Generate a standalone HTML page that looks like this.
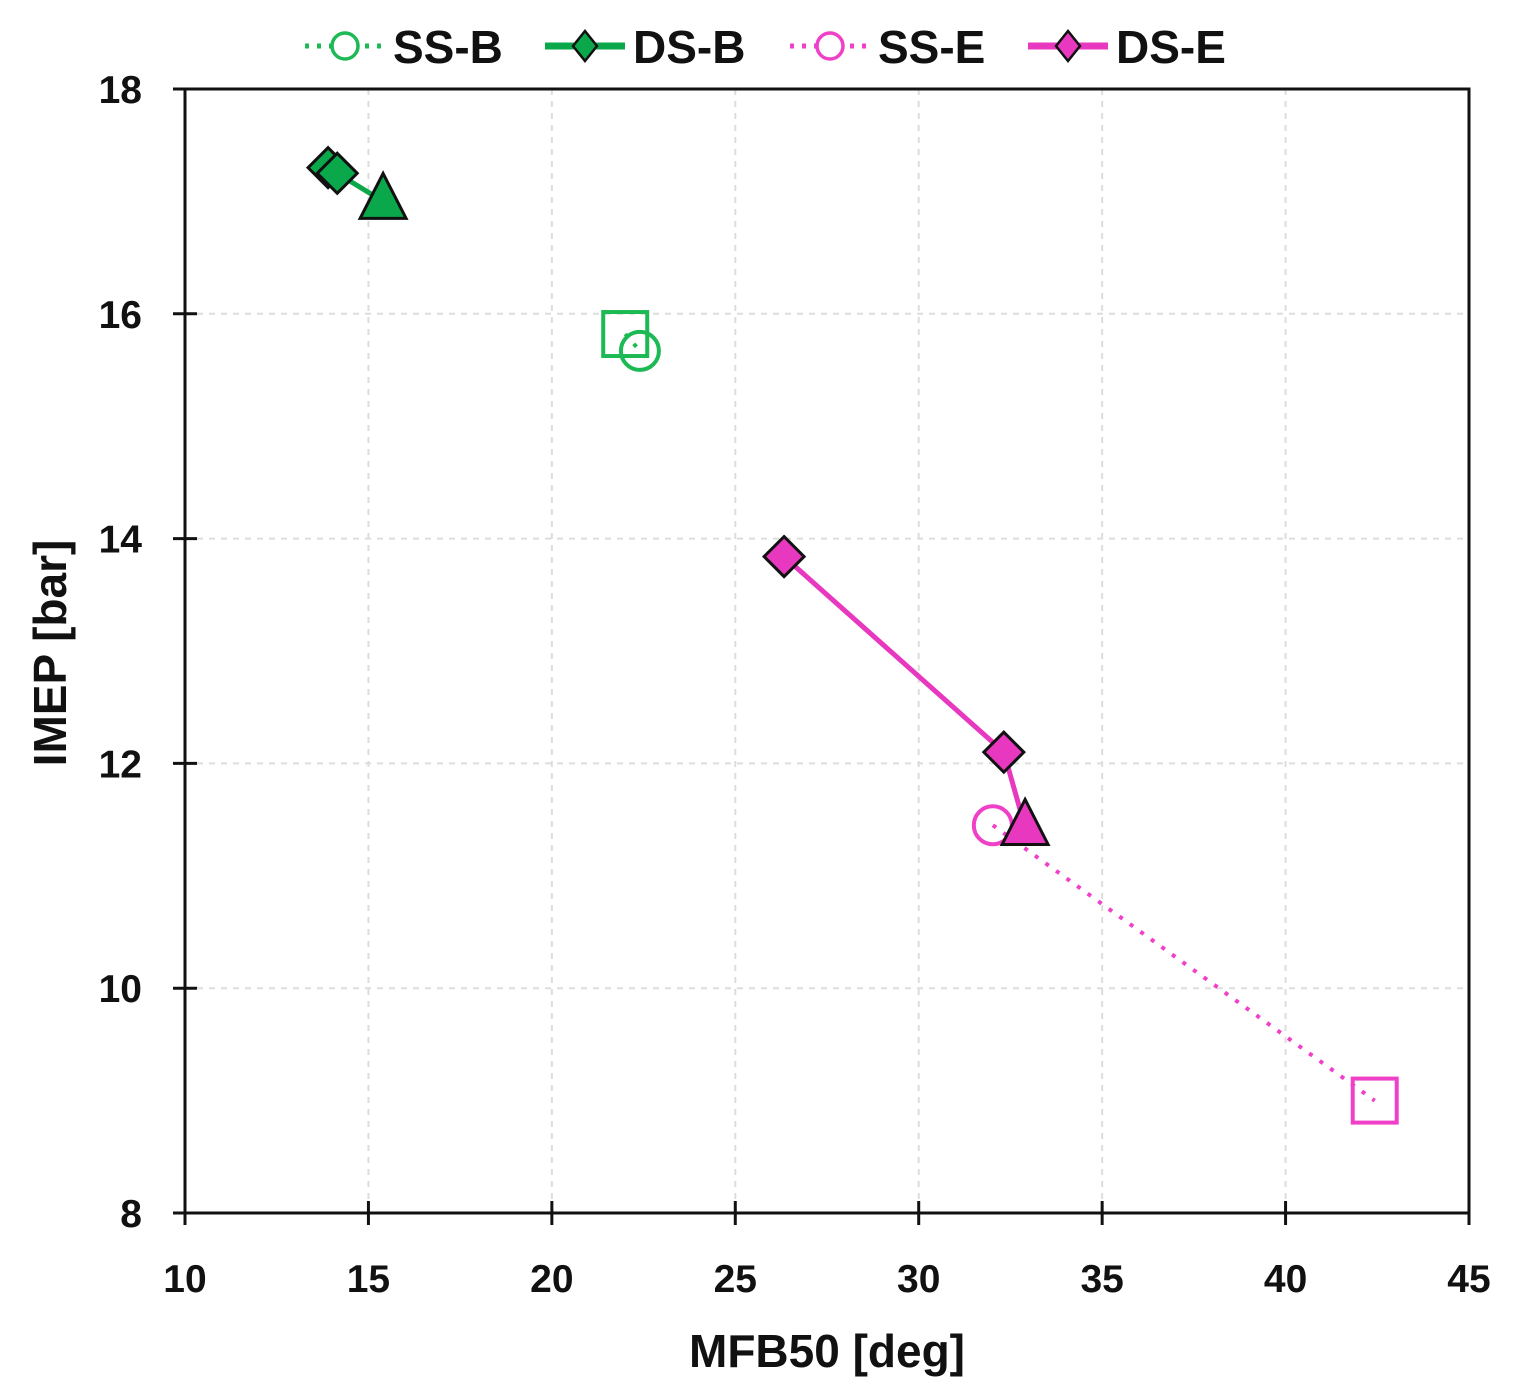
<!DOCTYPE html>
<html><head><meta charset="utf-8"><style>
html,body{margin:0;padding:0;background:#fff;}
svg{display:block;font-family:"Liberation Sans",Arial,sans-serif;}
</style></head><body>
<svg id="chart" width="1522" height="1398" viewBox="0 0 1522 1398"></svg>
<script>
const xTicks=[10,15,20,25,30,35,40,45];
const yTicks=[8,10,12,14,16,18];
const ssbX=[22.0,22.4];
const ssbY=[15.82,15.67];
const ssbM=['square','circle'];
const dsbX=[13.9,14.15,15.4];
const dsbY=[17.3,17.25,17.0];
const dsbM=['diamond','diamond','triangle'];
const sseX=[32.02,42.43];
const sseY=[11.45,9.0];
const sseM=['circle','square'];
const dseX=[26.33,32.32,32.9];
const dseY=[13.84,12.1,11.43];
const dseM=['diamond','diamond','triangle'];

const L=185,R=1469,T=89,B=1213;
const sx=v=>L+(v-10)/35*(R-L);
const sy=v=>B-(v-8)/10*(B-T);
const NS='http://www.w3.org/2000/svg';
const svg=document.getElementById('chart');
function mk(tag,a,parent){const e=document.createElementNS(NS,tag);for(const k in a)e.setAttribute(k,a[k]);(parent||svg).appendChild(e);return e;}

xTicks.forEach((t,i)=>{if(i>0&&i<xTicks.length-1){const g=mk('line',{x1:sx(t),x2:sx(t),y1:T,y2:B,stroke:'#ddd','stroke-width':2,'stroke-dasharray':'6,6'});

}});
yTicks.forEach((t,i)=>{if(i>0&&i<yTicks.length-1){const g=mk('line',{x1:L,x2:R,y1:sy(t),y2:sy(t),stroke:'#ddd','stroke-width':2,'stroke-dasharray':'6,6'});

}});
const fr=mk('rect',{x:L,y:T,width:R-L,height:B-T,fill:'none',stroke:'#111','stroke-width':3});


xTicks.forEach(t=>{const tk=mk('line',{x1:sx(t),x2:sx(t),y1:B-12,y2:B+12,stroke:'#111','stroke-width':3});


const tx=mk('text',{x:sx(t),y:1292,'text-anchor':'middle','font-size':39,'font-weight':'bold',fill:'#111'});tx.textContent=t;

});
yTicks.forEach(t=>{const tk=mk('line',{x1:L-12,x2:L+12,y1:sy(t),y2:sy(t),stroke:'#111','stroke-width':3});


const tx=mk('text',{x:142,y:sy(t)+14,'text-anchor':'end','font-size':39,'font-weight':'bold',fill:'#111'});tx.textContent=t;

});
const xt=mk('text',{x:827,y:1367,'text-anchor':'middle','font-size':46,'font-weight':'bold',fill:'#111'});xt.textContent='MFB50 [deg]';


const yt=mk('text',{x:0,y:0,transform:'translate(66,653) rotate(-90)','text-anchor':'middle','font-size':46,'font-weight':'bold',fill:'#111'});yt.textContent='IMEP [bar]';



function marker(type,x,y,fill,stroke,sw,parent){
  let e;
  if(type==='diamond')e=mk('polygon',{points:`${x},${y-20} ${x+20},${y} ${x},${y+20} ${x-20},${y}`,fill,stroke,'stroke-width':sw},parent);
  else if(type==='triangle')e=mk('polygon',{points:`${x},${y-28} ${x+23},${y+17} ${x-23},${y+17}`,fill,stroke,'stroke-width':sw},parent);
  else if(type==='square')e=mk('rect',{x:x-22,y:y-22,width:44,height:44,fill,stroke,'stroke-width':sw},parent);
  else e=mk('circle',{cx:x,cy:y,r:19,fill,stroke,'stroke-width':sw},parent);
  return e;
}
function series(name,xs,ys,ms,color,dotted,filled){
  const g=mk('g',{});
  
  
  const pts=xs.map((v,i)=>sx(v)+','+sy(ys[i])).join(' ');
  const pl=mk('polyline',{points:pts,fill:'none',stroke:color,'stroke-width':dotted?4:5,'stroke-dasharray':dotted?'4,9':'none'},g);
  
  
  xs.forEach((v,i)=>{const m=marker(ms[i],sx(v),sy(ys[i]),filled?color:'none',filled?'#111':color,filled?3:4,g);
  
  });
}
series('ss-b',ssbX,ssbY,ssbM,'#1db954',true,false);
series('ds-b',dsbX,dsbY,dsbM,'#0aa84a',false,true);
series('ss-e',sseX,sseY,sseM,'#f040c8',true,false);
series('ds-e',dseX,dseY,dseM,'#e838c0',false,true);

const leg=[['SS-B','#1db954',true,false,305],['DS-B','#0aa84a',false,true,545],['SS-E','#f040c8',true,false,790],['DS-E','#e838c0',false,true,1028]];
leg.forEach(([lab,c,dot,fill,x0])=>{
  const g=mk('g',{});
  
  
  mk('line',{x1:x0,x2:x0+80,y1:46,y2:46,stroke:c,'stroke-width':dot?5:7,'stroke-dasharray':dot?'4,8':'none'},g);
  if(fill)mk('polygon',{points:`${x0+40},${31} ${x0+52},${46} ${x0+40},${61} ${x0+28},${46}`,fill:c,stroke:'#111','stroke-width':2.5},g);
  else mk('circle',{cx:x0+40,cy:46,r:13,fill:'#fff',stroke:c,'stroke-width':3.5},g);
  const t=mk('text',{x:x0+88,y:63,'font-size':46,'font-weight':'bold',fill:'#111'},g);t.textContent=lab;
});
</script>
</body></html>
